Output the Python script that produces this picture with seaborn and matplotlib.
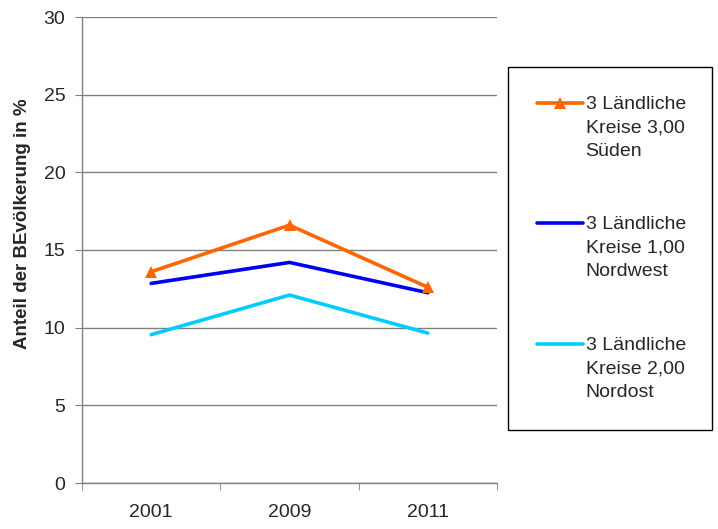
import numpy as np
import pandas as pd
import seaborn as sns
import matplotlib.pyplot as plt
from matplotlib.patches import Rectangle
from matplotlib.offsetbox import HPacker

years = ["2001", "2009", "2011"]
sueden = [13.6, 16.6, 12.6]
nordwest = [12.85, 14.2, 12.25]
nordost = [9.55, 12.1, 9.65]
labels = ["3 Ländliche\nKreise 3,00\nSüden",
          "3 Ländliche\nKreise 1,00\nNordwest",
          "3 Ländliche\nKreise 2,00\nNordost"]


def main():
    sns.set_style("white")
    plt.rcParams['font.family'] = ['Liberation Sans', 'DejaVu Sans']

    fig = plt.figure(figsize=(7.18, 5.29), dpi=100)
    ax = fig.add_axes([82 / 718, 46 / 529, 415 / 718, 466 / 529])

    df = pd.DataFrame({"Jahr": years * 3,
                       "Wert": sueden + nordwest + nordost,
                       "Serie": [labels[0]] * 3 + [labels[1]] * 3 + [labels[2]] * 3})

    sns.lineplot(data=df[df["Serie"] == labels[0]], x="Jahr", y="Wert", color="#FF6600",
                 linewidth=2.6, marker="^", markersize=9, markeredgewidth=0,
                 label=labels[0], ax=ax, zorder=5)
    sns.lineplot(data=df[df["Serie"] == labels[1]], x="Jahr", y="Wert", color="#0000F0",
                 linewidth=2.6, label=labels[1], ax=ax, zorder=4)
    sns.lineplot(data=df[df["Serie"] == labels[2]], x="Jahr", y="Wert", color="#00CCFF",
                 linewidth=2.6, label=labels[2], ax=ax, zorder=3)

    ax.set_xlim(-0.5, 2.5)
    ax.set_ylim(0, 30)
    ax.set_yticks(np.arange(0, 31, 5))
    ax.grid(axis="y", color="#808080", linewidth=1)
    ax.set_axisbelow(True)

    ax.set_xticks(range(3))
    ax.set_xticklabels(years)
    ax.set_xticks([-0.5, 0.5, 1.5, 2.5], minor=True)
    ax.tick_params(axis="x", which="major", length=0, pad=15, labelsize=14)
    ax.tick_params(axis="x", which="minor", length=5, color="#808080", bottom=True)
    ax.tick_params(axis="y", length=5, color="#808080", left=True, pad=7, labelsize=14)

    for s in ["top", "right"]:
        ax.spines[s].set_visible(False)
    for s in ["left", "bottom"]:
        ax.spines[s].set_color("#808080")
        ax.spines[s].set_linewidth(1)

    ax.set_xlabel("")
    ax.set_ylabel("Anteil der BEvölkerung in %", fontsize=13.5, fontweight="bold")
    ax.yaxis.set_label_coords(-0.122, 0.556)

    ax.get_legend().remove()
    handles, labs = ax.get_legend_handles_labels()
    leg = fig.legend(handles, labs, loc="upper left",
                     bbox_to_anchor=(537 / 718, 1 - 96 / 529),
                     frameon=False, fontsize=14, borderpad=0, borderaxespad=0,
                     handlelength=2.35, handletextpad=0.15, labelspacing=2.9)
    for t in leg.get_texts():
        t.set_linespacing(1.5)
    for p in leg.findobj(HPacker):
        p.align = "top"

    fig.patches.append(Rectangle((508 / 718, 1 - 430 / 529), 204 / 718, 363 / 529,
                                 transform=fig.transFigure, fill=False,
                                 edgecolor="black", linewidth=1))

    fig.savefig("out.png", dpi=100)


if __name__ == "__main__":
    main()
